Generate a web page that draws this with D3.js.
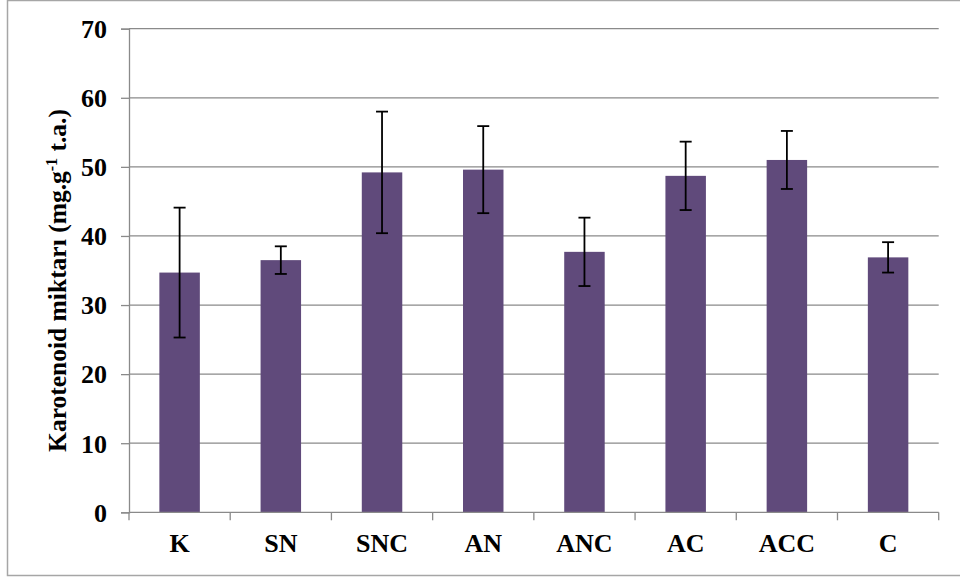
<!DOCTYPE html>
<html>
<head>
<meta charset="utf-8">
<script src="https://cdn.jsdelivr.net/npm/d3@7"></script>
<style>
  html, body { margin: 0; padding: 0; background: #fff; }
  svg { display: block; }
  text { font-family: "Liberation Serif", "Times New Roman", serif; font-weight: bold; fill: #000; }
</style>
</head>
<body>
<svg id="chart" width="960" height="579"></svg>
<script>
// Carotenoid content per treatment (mean and error)
const categories = ["K", "SN", "SNC", "AN", "ANC", "AC", "ACC", "C"];
const means = [34.7, 36.5, 49.2, 49.6, 37.7, 48.7, 51.0, 36.9];
const errors = [9.4, 2.0, 8.8, 6.3, 4.95, 4.95, 4.2, 2.2];
const yTicks = [0, 10, 20, 30, 40, 50, 60, 70];

const svg = d3.select("#chart");
const plot = { left: 129, right: 938.7, top: 28.7, bottom: 512.3 };
const FONT = "'Liberation Serif', 'Times New Roman', serif";

// outer chart frame
svg.append("rect")
  .attr("x", 7.5).attr("y", 0.5)
  .attr("width", 960).attr("height", 575)
  .attr("fill", "none").attr("stroke", "#a6a6a6").attr("stroke-width", 1.5);

const x = d3.scaleBand().domain(categories)
  .range([plot.left, plot.right]).paddingInner(0.6).paddingOuter(0.3);
const xOuter = d3.scaleBand().domain(categories).range([plot.left, plot.right]);
const y = d3.scaleLinear().domain([0, 70]).range([plot.bottom, plot.top]);

// horizontal gridlines
svg.append("g").selectAll("line").data(yTicks.filter(t => t > 0)).join("line")
  .attr("x1", plot.left).attr("x2", plot.right)
  .attr("y1", d => y(d)).attr("y2", d => y(d))
  .attr("stroke", "#8a8a8a").attr("stroke-width", 1.3);

// y axis
const yAxis = svg.append("g").attr("transform", `translate(${plot.left},0)`)
  .call(d3.axisLeft(y).tickValues(yTicks).tickSize(8).tickPadding(14));
yAxis.attr("font-family", FONT).attr("font-size", 26);
yAxis.select(".domain").attr("stroke", "#8a8a8a").attr("stroke-width", 1.3);
yAxis.selectAll(".tick line").attr("stroke", "#8a8a8a").attr("stroke-width", 1.3);
yAxis.selectAll("text")
  .attr("font-family", FONT).attr("font-size", 26).attr("font-weight", "bold")
  .attr("fill", "#000").attr("dy", "0.34em");

// bars
svg.append("g").selectAll("rect").data(categories).join("rect")
  .attr("x", d => x(d))
  .attr("y", (d, i) => y(means[i]))
  .attr("width", x.bandwidth())
  .attr("height", (d, i) => y(0) - y(means[i]))
  .attr("fill", "#604a7b");

// x axis with ticks at category boundaries
const xg = svg.append("g").attr("transform", `translate(0,${plot.bottom})`);
xg.append("line").attr("x1", plot.left).attr("x2", plot.right)
  .attr("stroke", "#8a8a8a").attr("stroke-width", 1.3);
const bounds = categories.map(c => xOuter(c)).concat([plot.right]);
xg.selectAll("line.tk").data(bounds).join("line").attr("class", "tk")
  .attr("x1", d => d).attr("x2", d => d).attr("y1", 0).attr("y2", 8)
  .attr("stroke", "#8a8a8a").attr("stroke-width", 1.3);
xg.selectAll("text").data(categories).join("text")
  .attr("x", d => xOuter(d) + xOuter.bandwidth() / 2)
  .attr("y", 40)
  .attr("text-anchor", "middle")
  .attr("font-family", FONT).attr("font-size", 26).attr("font-weight", "bold")
  .text(d => d);

// error bars
const eb = svg.append("g").attr("stroke", "#000").attr("stroke-width", 1.8);
categories.forEach((c, i) => {
  const cx = x(c) + x.bandwidth() / 2;
  const hi = y(means[i] + errors[i]), lo = y(means[i] - errors[i]);
  eb.append("line").attr("x1", cx).attr("x2", cx).attr("y1", hi).attr("y2", lo);
  eb.append("line").attr("x1", cx - 6).attr("x2", cx + 6).attr("y1", hi).attr("y2", hi);
  eb.append("line").attr("x1", cx - 6).attr("x2", cx + 6).attr("y1", lo).attr("y2", lo);
});

// y axis title
const title = svg.append("text")
  .attr("transform", `translate(66,${(plot.top + plot.bottom) / 2 + 10}) rotate(-90)`)
  .attr("text-anchor", "middle")
  .attr("font-family", FONT).attr("font-size", 25.5).attr("font-weight", "bold");
title.append("tspan").text("Karotenoid miktarı (mg.g");
title.append("tspan").attr("dy", -9).attr("font-size", 16).text("-1");
title.append("tspan").attr("dy", 9).text(" t.a.)");
</script>
</body>
</html>
